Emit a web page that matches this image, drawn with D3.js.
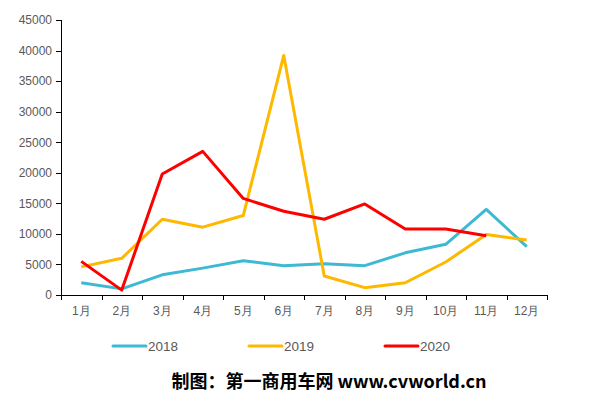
<!DOCTYPE html>
<meta charset="utf-8">
<style>
    body {
        margin: 0;
        background-color: #ffffff;
    }

    .axis text {
        font-family: Arial, "Liberation Sans", sans-serif;
        font-size: 12px;
        fill: #595959;
    }

    .axis path,
    .axis line {
        stroke: #000000;
        stroke-width: 1px;
        shape-rendering: crispEdges;
    }

    .legend text {
        font-family: Arial, "Liberation Sans", sans-serif;
        font-size: 13.5px;
        fill: #595959;
    }

    .credit {
        font-family: "Noto Sans CJK SC", sans-serif;
        font-size: 18px;
        font-weight: bold;
        fill: #000000;
    }
</style>

<body>
    <svg width="597" height="397"></svg>
    <script src="https://d3js.org/d3.v7.min.js"></script>
    <script>
        var months = ["1月", "2月", "3月", "4月", "5月", "6月", "7月", "8月", "9月", "10月", "11月", "12月"];
        var years = ["2018", "2019", "2020"];
        var colors = ["#3DB9D3", "#FFB800", "#FF0000"];
        var v2018 = [2000, 1000, 3300, 4400, 5600, 4800, 5100, 4800, 6900, 8300, 14000, 7900];
        var v2019 = [4600, 6000, 12400, 11100, 13000, 39200, 3100, 1200, 2000, 5400, 9900, 9000];
        var v2020 = [5500, 800, 19800, 23500, 15800, 13700, 12400, 14900, 10800, 10800, 9700];
        var yTicks = [0, 5000, 10000, 15000, 20000, 25000, 30000, 35000, 40000, 45000];

        var series = [v2018, v2019, v2020];

        var svg = d3.select("svg"),
            margin = {
                top: 20,
                right: 50,
                bottom: 102,
                left: 61
            },
            width = +svg.attr("width") - margin.left - margin.right,
            height = +svg.attr("height") - margin.top - margin.bottom;

        var x = d3.scaleBand().domain(months).range([0, width]);
        var y = d3.scaleLinear().domain([0, 45000]).range([height, 0]);

        var g = svg.append("g")
            .attr("transform", "translate(" + margin.left + "," + margin.top + ")");

        // x axis: ticks sit on the band edges
        var xAxis = g.append("g")
            .attr("class", "x axis")
            .attr("transform", "translate(0," + height + ")");
        xAxis.append("path")
            .attr("d", "M0.5,0.5H" + (width + 0.5));
        xAxis.selectAll(".tick")
            .data(months.concat(["end"]))
            .enter().append("line")
            .attr("x1", function(d, i) { return Math.round(i * x.step()) + 0.5; })
            .attr("x2", function(d, i) { return Math.round(i * x.step()) + 0.5; })
            .attr("y1", 0)
            .attr("y2", 5);
        xAxis.selectAll("text")
            .data(months)
            .enter().append("text")
            .attr("x", function(d) { return x(d) + x.bandwidth() / 2; })
            .attr("y", 20)
            .attr("text-anchor", "middle")
            .text(function(d) { return d; });

        g.append("g")
            .attr("class", "y axis")
            .call(d3.axisLeft(y).tickValues(yTicks).tickSize(5).tickPadding(4).tickFormat(d3.format("d")));

        var line = d3.line()
            .x(function(d, i) { return x(months[i]) + x.bandwidth() / 2; })
            .y(function(d) { return y(d); });

        g.selectAll(".line")
            .data(series)
            .enter().append("path")
            .attr("class", "line")
            .attr("fill", "none")
            .attr("stroke", function(d, i) { return colors[i]; })
            .attr("stroke-width", 3)
            .attr("stroke-linejoin", "round")
            .attr("d", line);

        // legend
        var legend = svg.append("g").attr("class", "legend")
            .selectAll("g")
            .data(years)
            .enter().append("g")
            .attr("transform", function(d, i) { return "translate(" + (113 + i * 136) + ",346)"; });
        legend.append("line")
            .attr("x1", 0)
            .attr("x2", 33)
            .attr("stroke", function(d, i) { return colors[i]; })
            .attr("stroke-width", 3)
            .attr("stroke-linecap", "round");
        legend.append("text")
            .attr("x", 35)
            .attr("dy", "0.36em")
            .text(function(d) { return d; });

        svg.append("text")
            .attr("class", "credit")
            .attr("x", 329)
            .attr("y", 388)
            .attr("text-anchor", "middle")
            .text("制图：第一商用车网 www.cvworld.cn");
    </script>
</body>
